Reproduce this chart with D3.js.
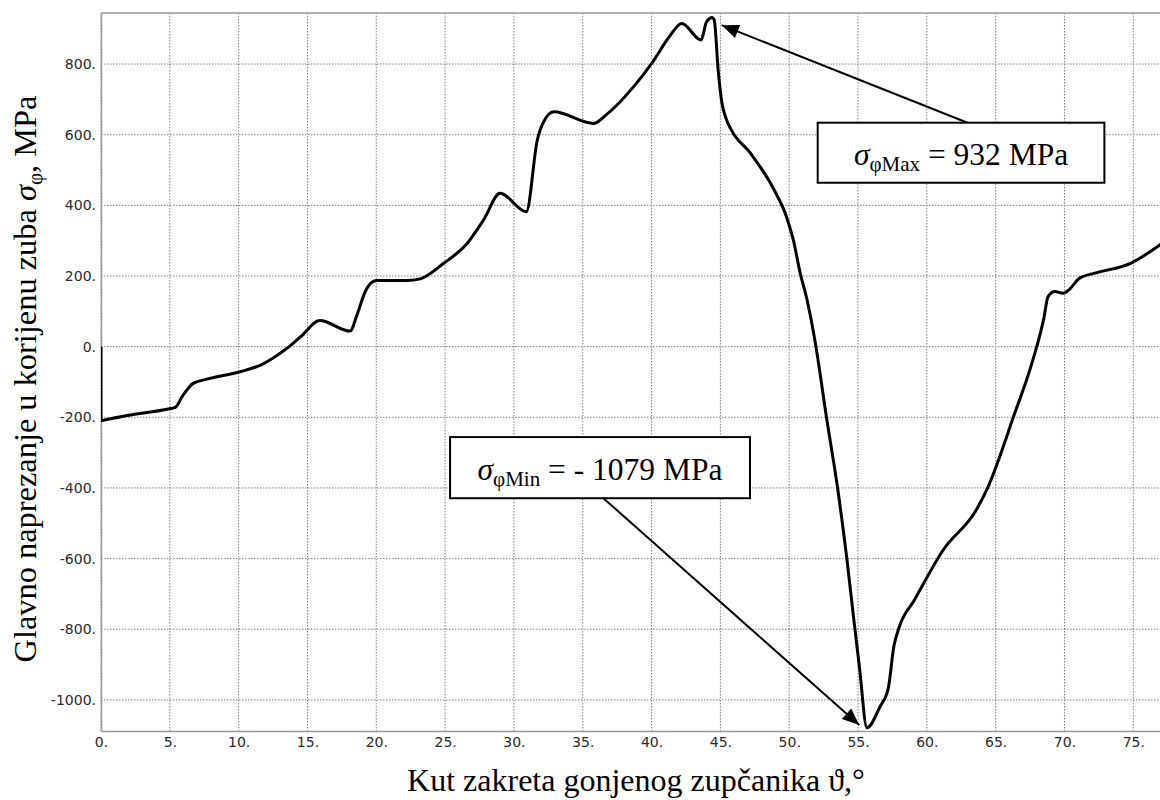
<!DOCTYPE html>
<html>
<head>
<meta charset="utf-8">
<script src="https://cdn.jsdelivr.net/npm/d3@7"></script>
<style>
html,body{margin:0;padding:0;background:#fff;}
svg{display:block;}
</style>
</head>
<body>
<svg id="chart" width="1160" height="800"></svg>
<script>
// ---- data ----
const angle = [0, 0, 1.9, 4.8, 5.4, 5.9, 6.7, 7.7, 10.1, 11.6, 13.5, 14.5, 15.9, 18.1, 18.6, 19.2, 20.0, 22.2, 23.2, 24.9, 26.6, 27.8, 29.0, 30.9, 31.7, 32.1, 32.9, 35.8, 36.7, 38.7, 40.1, 41.3, 42.2, 43.6, 44.0, 44.4, 44.55, 44.85, 45.1, 45.45, 45.8, 47.2, 48.9, 49.8, 50.3, 50.8, 51.3, 51.9, 52.7, 53.5, 54.2, 54.7, 55.1, 55.65, 56.6, 57.2, 57.6, 58.0, 59.1, 61.2, 63.6, 64.4, 66.3, 67.7, 68.5, 68.8, 69.3, 69.9, 70.3, 71.1, 72.3, 74.8, 77.0];
const stress = [0, -210, -195, -177, -172, -141, -104, -92, -71, -52, -5, 28, 74, 44, 90, 156, 187, 187, 192, 236, 292, 359, 434, 382, 585, 632, 665, 632, 656, 736, 807, 878, 915, 868, 920, 932, 925, 778, 693, 642, 613, 547, 444, 368, 302, 208, 132, 10, -198, -396, -604, -774, -906, -1079, -1019, -967, -849, -793, -717, -575, -462, -401, -198, -38, 80, 141, 156, 151, 160, 194, 209, 236, 290];
const xTicks = [0, 5, 10, 15, 20, 25, 30, 35, 40, 45, 50, 55, 60, 65, 70, 75];
const yTicks = [-1000, -800, -600, -400, -200, 0, 200, 400, 600, 800];
const maxLabel = {sub: "φMax", text: " = 932 MPa"};
const minLabel = {sub: "φMin", text: " = - 1079 MPa"};

// ---- layout ----
const svg = d3.select("#chart");
const L = 101, R = 1160, T = 13, B = 731;
const x = d3.scaleLinear().domain([0, 76.94]).range([L, R]);
const y = d3.scaleLinear().domain([-1088, 944.5]).range([B, T]);

svg.append("defs").append("clipPath").attr("id", "clip")
  .append("rect").attr("x", L).attr("y", T).attr("width", R - L).attr("height", B - T);

// grid
const grid = svg.append("g");
grid.selectAll(".gx").data(xTicks).join("line")
  .attr("x1", d => x(d)).attr("x2", d => x(d)).attr("y1", T).attr("y2", B)
  .attr("stroke", "#808080").attr("stroke-width", 1).attr("stroke-dasharray", "1.5,1.5");
grid.selectAll(".gy").data(yTicks).join("line")
  .attr("y1", d => y(d)).attr("y2", d => y(d)).attr("x1", L).attr("x2", R)
  .attr("stroke", "#808080").attr("stroke-width", 1).attr("stroke-dasharray", "1.5,1.5");

// axes
const fmt = d => d + ".";
const xAxis = svg.append("g").attr("transform", `translate(0,${B})`)
  .call(d3.axisBottom(x).tickValues(xTicks).tickFormat(fmt).tickSize(0).tickPadding(6));
const yAxis = svg.append("g").attr("transform", `translate(${L},0)`)
  .call(d3.axisLeft(y).tickValues(yTicks).tickFormat(fmt).tickSize(0).tickPadding(5));
[xAxis, yAxis].forEach(a => {
  a.attr("font-size", null).attr("font-family", null);
  a.select(".domain").attr("stroke", "#9a9a9a").attr("stroke-width", 1.5);
  a.selectAll("text")
    .style("font-family", "'DejaVu Sans', Verdana, sans-serif")
    .style("font-size", "14px").attr("fill", "#2a2a2a");
});
// frame top
svg.append("line").attr("x1", L).attr("x2", R).attr("y1", T).attr("y2", T)
  .attr("stroke", "#9a9a9a").attr("stroke-width", 1.5);

// curve
const pts = angle.map((a, i) => [a, stress[i]]);
const plot = svg.append("g").attr("clip-path", "url(#clip)");
// initial vertical jump
plot.append("path").datum(pts.slice(0, 2))
  .attr("fill", "none").attr("stroke", "#000").attr("stroke-width", 3)
  .attr("d", d3.line().x(d => x(d[0])).y(d => y(d[1])));
plot.append("path").datum(pts.slice(1))
  .attr("fill", "none").attr("stroke", "#000").attr("stroke-width", 3)
  .attr("stroke-linejoin", "round")
  .attr("d", d3.line().x(d => x(d[0])).y(d => y(d[1])).curve(d3.curveMonotoneX));

// arrows
function arrow(x1, y1, x2, y2) {
  svg.append("line").attr("x1", x1).attr("y1", y1).attr("x2", x2).attr("y2", y2)
    .attr("stroke", "#000").attr("stroke-width", 2);
  const ang = Math.atan2(y2 - y1, x2 - x1);
  const len = 17, w = 7;
  const bx = x2 - len * Math.cos(ang), by = y2 - len * Math.sin(ang);
  const px = -Math.sin(ang) * w, py = Math.cos(ang) * w;
  svg.append("path")
    .attr("d", `M${x2},${y2}L${bx + px},${by + py}L${bx - px},${by - py}Z`)
    .attr("fill", "#000");
}
arrow(x(63.0), y(633), x(45.1), y(910));
arrow(x(36.5), y(-429), x(55.09), y(-1071));

// annotation boxes
function box(x0, x1, v0, v1, lab) {
  const bx = x(x0), bw = x(x1) - x(x0), by = y(v0), bh = y(v1) - y(v0);
  svg.append("rect").attr("x", bx).attr("y", by).attr("width", bw).attr("height", bh)
    .attr("fill", "#fff").attr("stroke", "#000").attr("stroke-width", 2);
  const t = svg.append("text").attr("x", bx + bw / 2).attr("y", by + 42.5)
    .attr("text-anchor", "middle")
    .attr("font-family", "'Liberation Serif', 'Times New Roman', serif").attr("font-size", 31.5).attr("fill", "#000");
  t.append("tspan").attr("font-style", "italic").text("σ");
  t.append("tspan").attr("font-size", 21).attr("dy", 6).text(lab.sub);
  t.append("tspan").attr("dy", -6).text(lab.text);
}
box(52.07, 72.9, 634, 464, maxLabel);
box(25.36, 47.15, -256, -429, minLabel);

// axis titles
svg.append("text").attr("x", 636).attr("y", 791).attr("text-anchor", "middle")
  .attr("font-family", "'Liberation Serif', 'Times New Roman', serif").attr("font-size", 32)
  .text("Kut zakreta gonjenog zupčanika ϑ,°");
const yt = svg.append("text").attr("transform", "translate(36,379) rotate(-90)")
  .attr("text-anchor", "middle")
  .attr("font-family", "'Liberation Serif', 'Times New Roman', serif").attr("font-size", 32.4);
yt.append("tspan").text("Glavno naprezanje u korijenu zuba ");
yt.append("tspan").attr("font-style", "italic").text("σ");
yt.append("tspan").attr("font-size", 21).attr("dy", 6).text("φ");
yt.append("tspan").attr("dy", -6).text(", MPa");
</script>
</body>
</html>
